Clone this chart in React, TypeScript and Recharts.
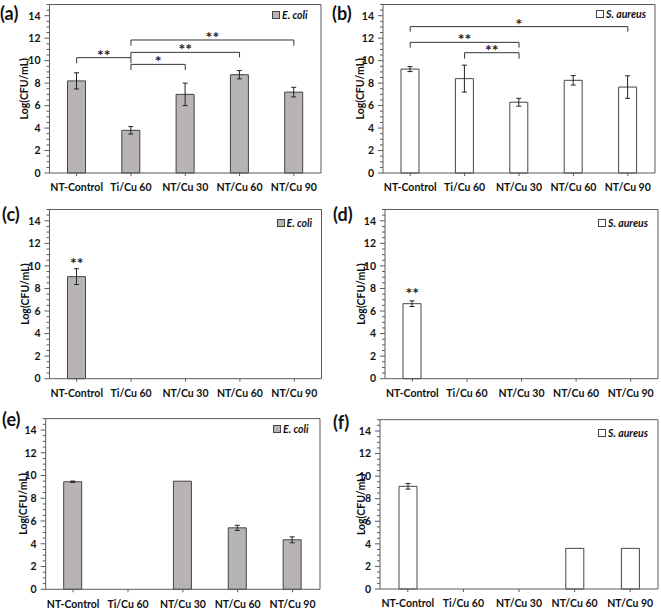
import React from 'react';
import { BarChart, Bar, XAxis, YAxis, ErrorBar, ReferenceLine, ReferenceDot, Legend } from 'recharts';

const categories = ['NT-Control', 'Ti/Cu 60', 'NT/Cu 30', 'NT/Cu 60', 'NT/Cu 90'];
const yTicks = [0, 0.5, 1, 1.5, 2, 2.5, 3, 3.5, 4, 4.5, 5, 5.5, 6, 6.5, 7, 7.5, 8, 8.5, 9, 9.5, 10, 10.5, 11, 11.5, 12, 12.5, 13, 13.5, 14, 14.5, 15];
const yLabels = [0, 2, 4, 6, 8, 10, 12, 14];

// (a) E. coli
const ecoliA = [8.2, 3.8, 7.0, 8.75, 7.2];
const ecoliAErr = [0.72, 0.33, 1.0, 0.37, 0.43];
// (b) S. aureus
const aureusB = [9.25, 8.4, 6.3, 8.25, 7.65];
const aureusBErr = [0.22, 1.2, 0.35, 0.42, 1.0];
// (c) E. coli
const ecoliC = [9.05, 0, 0, 0, 0];
const ecoliCErr = [0.7, 0, 0, 0, 0];
// (d) S. aureus
const aureusD = [6.65, 0, 0, 0, 0];
const aureusDErr = [0.25, 0, 0, 0, 0];
// (e) E. coli
const ecoliE = [9.45, 0, 9.5, 5.4, 4.35];
const ecoliEErr = [0.06, 0, 0, 0.22, 0.26];
// (f) S. aureus
const aureusF = [9.1, 0, 0, 3.6, 3.6];
const aureusFErr = [0.25, 0, 0, 0, 0];

type Bracket = { from: string; to: string; y: number; drop: number; stars: string };

const bracketsA: Bracket[] = [
  { from: 'NT-Control', to: 'Ti/Cu 60', y: 10.27, drop: 0.5, stars: '**' },
  { from: 'Ti/Cu 60', to: 'NT/Cu 30', y: 9.67, drop: 0.5, stars: '*' },
  { from: 'Ti/Cu 60', to: 'NT/Cu 60', y: 10.74, drop: 0.45, stars: '**' },
  { from: 'Ti/Cu 60', to: 'NT/Cu 90', y: 11.84, drop: 0.5, stars: '**' },
];
const bracketsB: Bracket[] = [
  { from: 'NT-Control', to: 'NT/Cu 90', y: 13.03, drop: 0.45, stars: '*' },
  { from: 'NT-Control', to: 'NT/Cu 30', y: 11.63, drop: 0.47, stars: '**' },
  { from: 'Ti/Cu 60', to: 'NT/Cu 30', y: 10.71, drop: 0.53, stars: '**' },
];

const AXIS = '#5a5a5a';
const FONT = 'Lato, "Open Sans", sans-serif';
const GREY = '#b9b4b4';

type PanelDef = {
  letter: string;
  left: number;
  top: number;
  plotL: number;
  plotT: number;
  plotR: number;
  plotB: number;
  labelX: number;
  values: number[];
  errors: number[];
  fill: string;
  species: string;
  legendX: number;
  legendY: number;
  brackets?: Bracket[];
  starY?: number;
};

const panels: PanelDef[] = [
  { letter: '(a)', left: 0, top: 0, plotL: 49.5, plotT: 4.5, plotR: 321, plotB: 173, labelX: 24, values: ecoliA, errors: ecoliAErr, fill: GREY, species: 'E. coli', legendX: 272, legendY: 15, brackets: bracketsA },
  { letter: '(b)', left: 330, top: 0, plotL: 383, plotT: 4.5, plotR: 655, plotB: 173, labelX: 360, values: aureusB, errors: aureusBErr, fill: '#ffffff', species: 'S. aureus', legendX: 596, legendY: 14, brackets: bracketsB },
  { letter: '(c)', left: 0, top: 200, plotL: 49.5, plotT: 209.5, plotR: 321.5, plotB: 378.7, labelX: 25, values: ecoliC, errors: ecoliCErr, fill: GREY, species: 'E. coli', legendX: 276.5, legendY: 222.5, starY: 10.2 },
  { letter: '(d)', left: 330, top: 200, plotL: 385, plotT: 209.5, plotR: 658, plotB: 378.7, labelX: 361.5, values: aureusD, errors: aureusDErr, fill: '#ffffff', species: 'S. aureus', legendX: 598, legendY: 223, starY: 7.6 },
  { letter: '(e)', left: 0, top: 400, plotL: 45.7, plotT: 418.6, plotR: 320, plotB: 589.3, labelX: 23, values: ecoliE, errors: ecoliEErr, fill: GREY, species: 'E. coli', legendX: 273, legendY: 429 },
  { letter: '(f)', left: 330, top: 400, plotL: 380, plotT: 419.7, plotR: 658, plotB: 589, labelX: 361.5, values: aureusF, errors: aureusFErr, fill: '#ffffff', species: 'S. aureus', legendX: 598, legendY: 433 },
];

const renderYTick = (props: any) => {
  const { x, y, payload } = props;
  const v = payload.value;
  const major = yLabels.includes(v);
  return (
    <g>
      <line x1={x - (major ? 5 : 3)} x2={x} y1={y} y2={y} stroke={AXIS} strokeWidth={1} />
      {major && (
        <text x={x - 9} y={y} dy="0.36em" textAnchor="end" fontSize={10.5} fontWeight={700} fontFamily={FONT} fill="#111">
          {v}
        </text>
      )}
    </g>
  );
};

const Panel = ({ p }: { p: PanelDef }) => {
  const rows = categories.map((name, i) => ({ name, value: p.values[i], err: p.errors[i] }));
  const right = 9;
  const width = p.plotR - p.left + right;
  const height = p.plotB - p.top + 27;
  const starLabel = { position: 'top' as const, offset: -3, fill: '#222', fontSize: 16, fontWeight: 700, fontFamily: FONT };

  return (
    <div style={{ position: 'absolute', left: p.left, top: p.top, width, height }}>
      <BarChart width={width} height={height} data={rows} margin={{ top: p.plotT - p.top, right, left: 0, bottom: 0 }}>
        <XAxis
          dataKey="name"
          interval={0}
          height={27}
          stroke={AXIS}
          tickSize={3}
          tickMargin={8}
          tick={{ fill: '#111', fontSize: 10.5, fontWeight: 700, fontFamily: FONT }}
        />
        <YAxis
          domain={[0, 15]}
          ticks={yTicks}
          interval={0}
          width={p.plotL - p.left}
          stroke={AXIS}
          tickLine={false}
          tickSize={0}
          tickMargin={0}
          tick={renderYTick}
          label={{
            value: 'Log(CFU/mL)',
            angle: -90,
            position: 'insideLeft',
            offset: p.labelX - p.left,
            style: { textAnchor: 'middle', fontSize: 10.5, fontWeight: 700, fontFamily: FONT, fill: '#111' },
          }}
        />
        <ReferenceLine y={15} stroke={AXIS} />
        <ReferenceLine x="NT/Cu 90" position="end" stroke={AXIS} />
        <Bar dataKey="value" fill={p.fill} stroke="#444" strokeWidth={1} barSize={18} isAnimationActive={false}>
          <ErrorBar dataKey="err" width={2.5} stroke="#222" strokeWidth={1} />
        </Bar>
        {(p.brackets || []).map((b, i) => (
          <React.Fragment key={i}>
            <ReferenceLine segment={[{ x: b.from, y: b.y }, { x: b.to, y: b.y }]} stroke="#333" label={{ value: b.stars, ...starLabel }} />
            <ReferenceLine segment={[{ x: b.from, y: b.y }, { x: b.from, y: b.y - b.drop }]} stroke="#333" />
            <ReferenceLine segment={[{ x: b.to, y: b.y }, { x: b.to, y: b.y - b.drop }]} stroke="#333" />
          </React.Fragment>
        ))}
        {p.starY !== undefined && (
          <ReferenceDot
            x="NT-Control"
            y={p.starY}
            r={1}
            fill="none"
            stroke="none"
            label={{ value: '**', position: 'center', fill: '#222', fontSize: 16, fontWeight: 700, fontFamily: FONT }}
          />
        )}
        <Legend
          align="center"
          verticalAlign="middle"
          wrapperStyle={{ left: p.legendX - p.left, top: p.legendY - p.top - 7, width: 'auto', height: 14 }}
          content={() => (
            <div style={{ display: 'flex', alignItems: 'center', fontFamily: FONT, fontSize: 10.5, fontWeight: 700, fontStyle: 'italic', color: '#111', lineHeight: '14px' }}>
              <span style={{ display: 'inline-block', width: 6, height: 6, background: p.fill, border: '1px solid #444', marginRight: 2 }} />
              <span>{p.species}</span>
            </div>
          )}
        />
      </BarChart>
    </div>
  );
};

const letterPos = [
  { l: 0, t: 3 },
  { l: 332, t: 3 },
  { l: 2, t: 204 },
  { l: 333, t: 204 },
  { l: 2, t: 409 },
  { l: 333, t: 412 },
];

export default function App() {
  return (
    <div style={{ position: 'absolute', left: 0, top: 0, width: 661, height: 610, overflow: 'hidden', background: '#fff' }}>
      {panels.map((p) => (
        <Panel key={p.letter} p={p} />
      ))}
      {panels.map((p, i) => (
        <div
          key={'l' + i}
          style={{ position: 'absolute', left: letterPos[i].l, top: letterPos[i].t, fontFamily: FONT, fontWeight: 700, fontSize: 18, lineHeight: '20px', color: '#111' }}
        >
          {p.letter}
        </div>
      ))}
    </div>
  );
}
